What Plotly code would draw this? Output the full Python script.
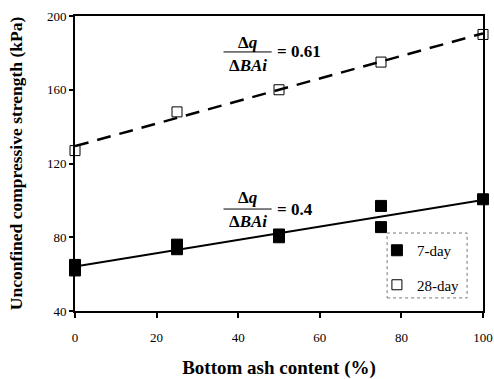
import numpy as np
import plotly.graph_objects as go

# Data
x7 = [0, 0, 25, 25, 50, 50, 75, 75, 100]
y7 = [65, 62, 76, 73.5, 81.5, 80, 97, 85.5, 100.6]
x28 = [0, 25, 50, 75, 100]
y28 = [127, 148, 160, 175, 190]
x_ticks = [0, 20, 40, 60, 80, 100]
y_ticks = [40, 80, 120, 160, 200]

FONT = "Liberation Serif, DejaVu Serif, serif"

# linear fits
s7, i7 = np.polyfit(x7, y7, 1)
s28, i28 = np.polyfit(x28, y28, 1)
xf = np.array([0, 100])

fig = go.Figure()
fig.add_trace(go.Scatter(x=xf, y=s7 * xf + i7, mode="lines",
                         line=dict(color="black", width=2), showlegend=False, hoverinfo="skip"))
fig.add_trace(go.Scatter(x=xf, y=s28 * xf + i28, mode="lines",
                         line=dict(color="black", width=2.5, dash="14px,9px"), showlegend=False, hoverinfo="skip"))
fig.add_trace(go.Scatter(x=x7, y=y7, mode="markers", name="7-day", legendgroup="a", cliponaxis=False,
                         marker=dict(symbol="square", size=11, color="black", line=dict(color="black", width=1))))
fig.add_trace(go.Scatter(x=x28, y=y28, mode="markers", name="28-day", legendgroup="b", cliponaxis=False,
                         marker=dict(symbol="square-open", size=10, color="black", line=dict(width=1))))

# legend box (dotted)
fig.add_shape(type="rect", x0=76.5, x1=96.1, y0=47.1, y1=82.3, xref="x", yref="y",
              line=dict(color="#777", width=1, dash="dot"), layer="below")

def fraction(xc, ytop, ybar, ybot, value):
    fig.add_annotation(x=xc, y=ytop, xref="x", yref="y", showarrow=False,
                       text="<b>Δ<i>q</i></b>", font=dict(family=FONT, size=17, color="black"))
    fig.add_annotation(x=xc, y=ybot, xref="x", yref="y", showarrow=False,
                       text="<b>Δ<i>BAi</i></b>", font=dict(family=FONT, size=17, color="black"))
    fig.add_shape(type="line", x0=xc - 5.9, x1=xc + 5.9, y0=ybar, y1=ybar, xref="x", yref="y",
                  line=dict(color="black", width=1))
    fig.add_annotation(x=xc + 6.6, y=ybar, xref="x", yref="y", showarrow=False, xanchor="left",
                       text="<b>= %s</b>" % value, font=dict(family=FONT, size=17, color="black"))

fraction(42.3, 185.4, 180.5, 173.4, "0.61")
fraction(42.3, 101.8, 95.3, 88.3, "0.4")

fig.update_layout(
    width=494, height=379,
    margin=dict(l=75, r=11, t=16, b=68),
    paper_bgcolor="white", plot_bgcolor="white",
    font=dict(family=FONT, size=13, color="black"),
    showlegend=True,
    legend=dict(x=0.74, y=0.261, xanchor="left", yanchor="top", bgcolor="rgba(0,0,0,0)",
                font=dict(family=FONT, size=15, color="black"), tracegroupgap=12,
                traceorder="grouped", itemwidth=30),
    xaxis=dict(range=[0, 100], tickvals=x_ticks, showgrid=False, zeroline=False, automargin=False,
               showline=True, linecolor="black", linewidth=2, mirror=True,
               ticks="outside", ticklen=5, tickwidth=2, tickcolor="black", ticklabelstandoff=8,
               tickfont=dict(family=FONT, size=13),
               title=dict(text="<b>Bottom ash content (%)</b>", font=dict(family=FONT, size=19), standoff=22)),
    yaxis=dict(range=[40, 200], tickvals=y_ticks, showgrid=False, zeroline=False, automargin=False,
               showline=True, linecolor="black", linewidth=2, mirror=True,
               ticks="outside", ticklen=4, tickwidth=2, tickcolor="black",
               tickfont=dict(family=FONT, size=13),
               title=dict(text="<b>Unconfined compressive strength (kPa)</b>", font=dict(family=FONT, size=17.5), standoff=20)),
)

fig.write_html("out.html", config={"displayModeBar": False},
               post_script="document.body.style.margin='0';document.body.style.padding='0';")
